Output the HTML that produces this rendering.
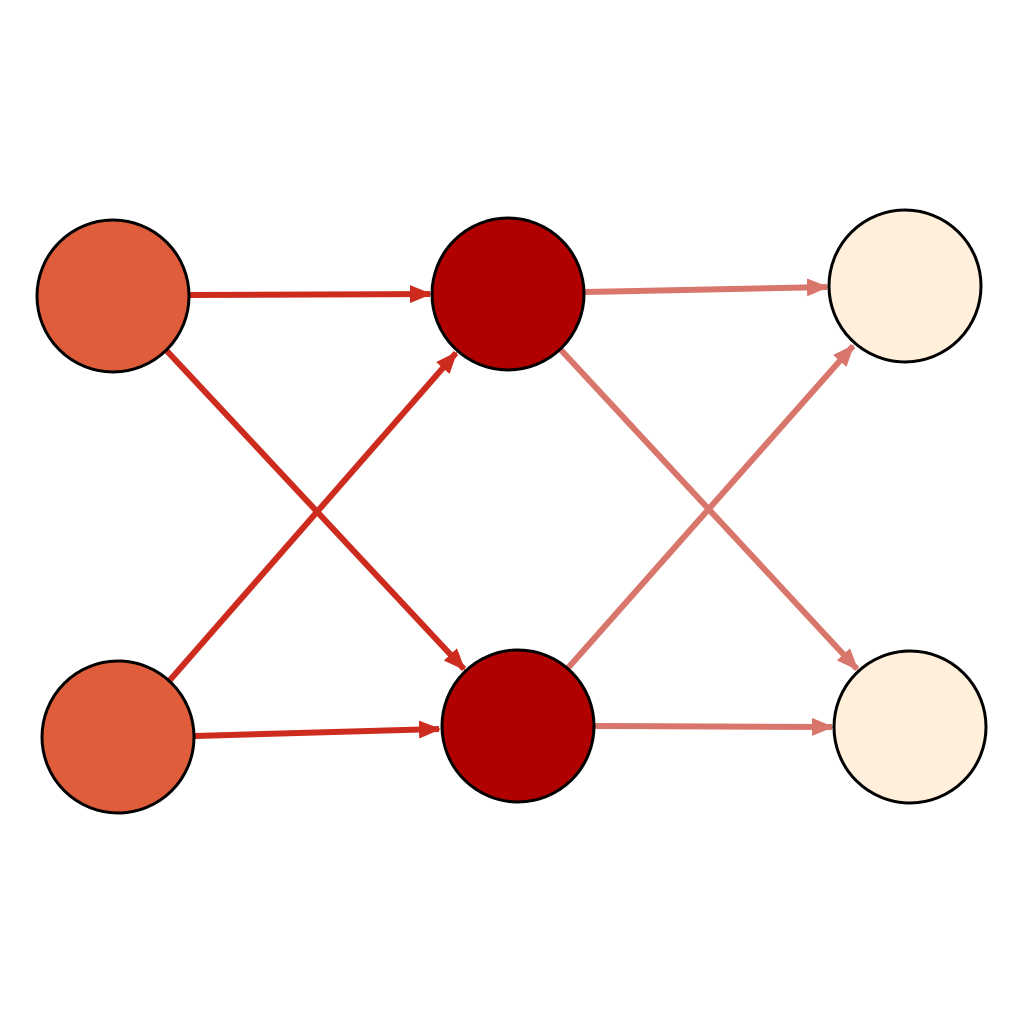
<!DOCTYPE html>
<html><head><meta charset="utf-8"><style>html,body{margin:0;padding:0;background:#fff}svg{display:block}</style></head>
<body>
<svg width="1024" height="1024" viewBox="0 0 1024 1024" xmlns="http://www.w3.org/2000/svg">
<defs>
<marker id="ma" markerUnits="userSpaceOnUse" markerWidth="22" markerHeight="18" refX="20" refY="9" orient="auto"><path d="M0,0 L22,9 L0,18 z" fill="#cc2b1d"/></marker>
<marker id="mb" markerUnits="userSpaceOnUse" markerWidth="22" markerHeight="18" refX="20" refY="9" orient="auto"><path d="M0,0 L22,9 L0,18 z" fill="#d9766b"/></marker>
</defs>
<g stroke="#cc2b1d" stroke-width="6" marker-end="url(#ma)">
<line x1="190" y1="295" x2="430" y2="294"/>
<line x1="166" y1="350" x2="464" y2="669"/>
<line x1="170" y1="680" x2="456" y2="353"/>
<line x1="195" y1="736" x2="439" y2="729"/>
</g>
<g stroke="#d9766b" stroke-width="6" marker-end="url(#mb)">
<line x1="585" y1="292" x2="827" y2="287"/>
<line x1="561" y1="350" x2="857" y2="669"/>
<line x1="568" y1="668" x2="853" y2="346"/>
<line x1="595" y1="726" x2="832" y2="727"/>
</g>
<g stroke="#000" stroke-width="3">
<circle cx="113" cy="296" r="76" fill="#e05d3c"/>
<circle cx="118" cy="737" r="76" fill="#e05d3c"/>
<circle cx="508" cy="294" r="76" fill="#b00000"/>
<circle cx="518" cy="726" r="76" fill="#b00000"/>
<circle cx="905" cy="286" r="76" fill="#ffefdb"/>
<circle cx="910" cy="727" r="76" fill="#ffefdb"/>
</g>
</svg>
</body></html>
